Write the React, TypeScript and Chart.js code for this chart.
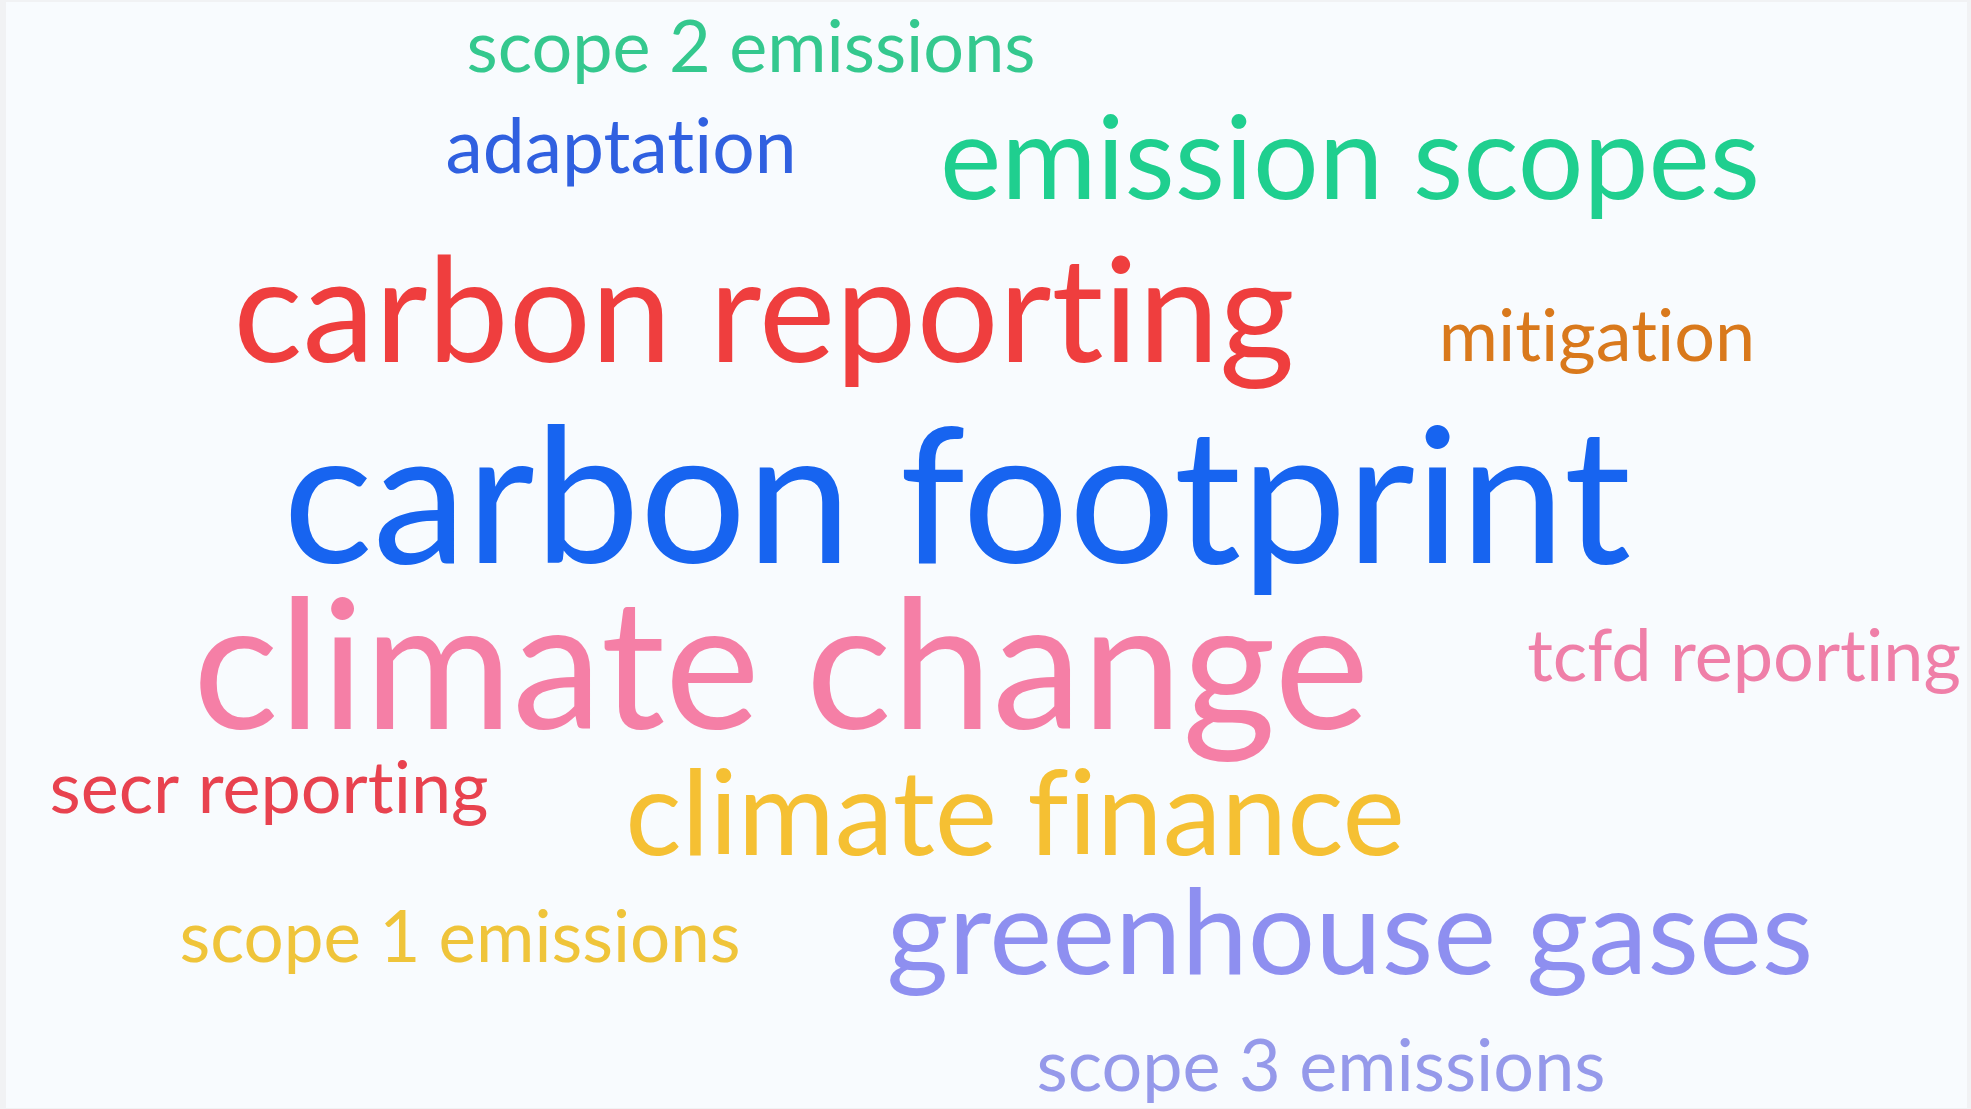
import React, { useEffect, useRef } from "react";
import { Chart, registerables } from "chart.js";
Chart.register(...registerables);

const words = [
  "scope 2 emissions", "adaptation", "emission scopes", "carbon reporting", "mitigation",
  "carbon footprint", "climate change", "tcfd reporting", "secr reporting", "climate finance",
  "scope 1 emissions", "greenhouse gases", "scope 3 emissions",
];
const xCenter = [751, 621, 1350, 764, 1597, 957, 781, 1744, 269, 1015, 460, 1350, 1321];
const yBase = [72, 173, 199, 362, 361, 563, 729, 681, 813, 855, 962, 974, 1091];
const fontSizes = [72, 75, 116, 145, 72, 188, 180, 72, 72, 118, 71, 119, 72];
const colors = [
  "#34c88e", "#3060e0", "#1fcf8f", "#ef3e3e", "#d9791c", "#1764f0", "#f57fa6",
  "#ef7fa8", "#e8424f", "#f5c033", "#efc43a", "#8e8ff0", "#9599ea",
];
const FONT = "Lato";

const noLigatures = (s: string) => s.replace(/([tf])(?=[il])/g, "$1\u200C");

const wordPlugin = {
  id: "wordcloud",
  beforeDraw(chart: any) {
    const { ctx, width, height } = chart;
    ctx.save();
    ctx.fillStyle = "#f1f2f4";
    ctx.fillRect(0, 0, width, height);
    ctx.fillStyle = "#f8fbfe";
    ctx.fillRect(6, 2, width - 10, height - 3);
    ctx.restore();
  },
  afterDatasetsDraw(chart: any) {
    const { ctx } = chart;
    const meta = chart.getDatasetMeta(0);
    ctx.save();
    ctx.textAlign = "center";
    ctx.textBaseline = "alphabetic";
    meta.data.forEach((el: any, i: number) => {
      ctx.font = `400 ${fontSizes[i]}px ${FONT}`;
      ctx.fillStyle = colors[i];
      ctx.fillText(noLigatures(words[i]), el.x, el.y);
    });
    ctx.restore();
  },
};

export default function App() {
  const ref = useRef<HTMLCanvasElement>(null);
  useEffect(() => {
    document.body.style.margin = "0";
    const chart = new Chart(ref.current!, {
      type: "scatter",
      data: {
        datasets: [{
          data: words.map((_, i) => ({ x: xCenter[i], y: yBase[i] })),
          pointRadius: 0,
          pointHoverRadius: 0,
        }],
      },
      options: {
        animation: false,
        responsive: false,
        events: [],
        layout: { padding: 0 },
        plugins: { legend: { display: false }, tooltip: { enabled: false } },
        scales: {
          x: { type: "linear", min: 0, max: 1971, display: false },
          y: { type: "linear", min: 0, max: 1109, reverse: true, display: false },
        },
      },
      plugins: [wordPlugin],
    });
    return () => chart.destroy();
  }, []);
  return (
    <div style={{ width: 1971, height: 1109 }}>
      <canvas ref={ref} width={1971} height={1109} style={{ display: "block" }} />
    </div>
  );
}
